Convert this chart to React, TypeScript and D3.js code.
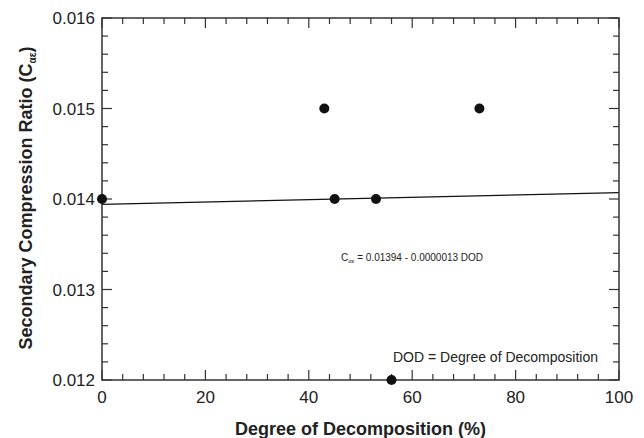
import React from "react";
import * as d3 from "d3";

const dodValues = [0, 43, 73, 45, 53, 56];
const caeValues = [0.014, 0.015, 0.015, 0.014, 0.014, 0.012];
const fitX = [0, 100];
const fitY = [0.01394, 0.01407];
const xTicks = [0, 20, 40, 60, 80, 100];
const yTicks = [0.012, 0.013, 0.014, 0.015, 0.016];

const W = 644, H = 438;
const M = { left: 102, right: 619, top: 18, bottom: 380 };
const FONT = "'Liberation Sans', Arial, sans-serif";

export default function App() {
  const x = d3.scaleLinear().domain([0, 100]).range([M.left, M.right]);
  const y = d3.scaleLinear().domain([0.012, 0.016]).range([M.bottom, M.top]);
  const xMinor = d3.range(0, 100.001, 4);
  const yMinor = d3.range(0, 21).map((i) => 0.012 + i * 0.0002);
  const majLen = 10, minLen = 6;
  const isMajX = (v: number) => Math.abs(v % 20) < 1e-6;
  const isMajY = (v: number) => yTicks.some((t) => Math.abs(t - v) < 1e-9);
  const line = d3.line<number>().x((_, i) => x(fitX[i])).y((d) => y(d));
  const stroke = "#333";

  return (
    <svg width={W} height={H} style={{ position: "absolute", left: 0, top: 0, background: "#fff" }} fontFamily={FONT}>
      {/* ticks */}
      {xMinor.map((v, i) => {
        const len = isMajX(v) ? majLen : minLen;
        return (
          <g key={"xt" + i} stroke={stroke} strokeWidth={1.2}>
            <line x1={x(v)} x2={x(v)} y1={M.bottom} y2={M.bottom - len} />
            <line x1={x(v)} x2={x(v)} y1={M.top} y2={M.top + len} />
          </g>
        );
      })}
      {yMinor.map((v, i) => {
        const len = isMajY(v) ? majLen : minLen;
        return (
          <g key={"yt" + i} stroke={stroke} strokeWidth={1.2}>
            <line x1={M.left} x2={M.left + len} y1={y(v)} y2={y(v)} />
            <line x1={M.right} x2={M.right - len} y1={y(v)} y2={y(v)} />
          </g>
        );
      })}
      {/* fit line */}
      <path d={line(fitY) || ""} fill="none" stroke="#111" strokeWidth={1.2} />
      {/* frame */}
      <rect x={M.left} y={M.top} width={M.right - M.left} height={M.bottom - M.top} fill="none" stroke={stroke} strokeWidth={1.5} />
      {/* points */}
      {dodValues.map((d, i) => (
        <circle key={"p" + i} cx={x(d)} cy={y(caeValues[i])} r={5} fill="#111" />
      ))}
      {/* tick labels */}
      {xTicks.map((v) => (
        <text key={"xl" + v} x={x(v)} y={403} textAnchor="middle" fontSize={17} fill="#222">
          {v}
        </text>
      ))}
      {yTicks.map((v) => (
        <text key={"yl" + v} x={95} y={y(v) + 6} textAnchor="end" fontSize={17} fill="#222">
          {v.toFixed(3)}
        </text>
      ))}
      {/* axis titles */}
      <text x={(M.left + M.right) / 2} y={435} textAnchor="middle" fontSize={18} fontWeight="bold" fill="#222">
        Degree of Decomposition (%)
      </text>
      <text transform={`translate(32,198) rotate(-90)`} textAnchor="middle" fontSize={18} fontWeight="bold" fill="#222">
        Secondary Compression Ratio (C
        <tspan fontSize={10} dy={4}>αε</tspan>
        <tspan dy={-4}>)</tspan>
      </text>
      {/* annotations */}
      <text x={341} y={261} fontSize={10} fill="#222">
        C<tspan fontSize={6} dy={2}>αε</tspan>
        <tspan dy={-2}> = 0.01394 - 0.0000013 DOD</tspan>
      </text>
      <text x={393} y={362} fontSize={14} fill="#222">
        DOD = Degree of Decomposition
      </text>
    </svg>
  );
}
